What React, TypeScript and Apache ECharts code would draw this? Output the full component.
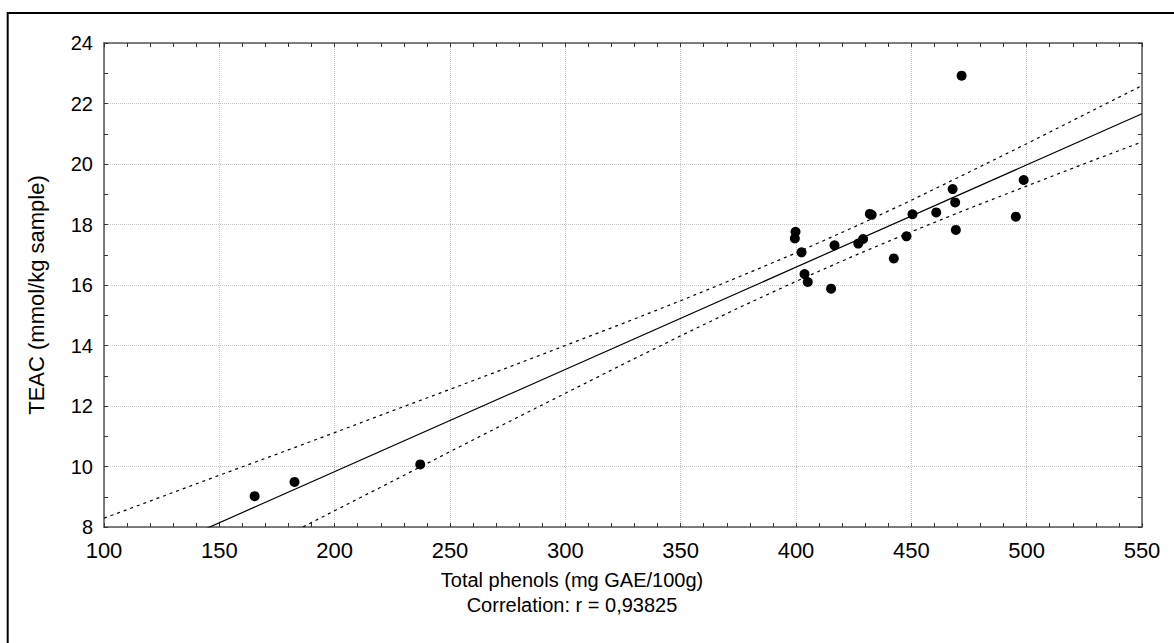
import React, { useEffect, useRef } from "react";
import * as echarts from "echarts";

// Scatter data: Total phenols (mg GAE/100g) vs TEAC (mmol/kg sample)
const pointX = [165.3, 182.6, 237.1, 399.5, 399.8, 402.4, 403.7, 405.1, 415.2, 416.7, 427.0, 429.1, 432.0, 432.8, 442.4, 447.9, 450.5, 460.8, 467.9, 469.0, 469.3, 471.8, 495.3, 498.7];
const pointY = [9.02, 9.49, 10.07, 17.54, 17.76, 17.08, 16.36, 16.10, 15.88, 17.31, 17.37, 17.52, 18.35, 18.32, 16.88, 17.61, 18.34, 18.40, 19.17, 18.73, 17.82, 22.92, 18.26, 19.47];

// Regression line (read at the ends of the x range)
const fitX = [100, 550];
const fitY = [6.45, 21.66];

// Confidence band
const bandX = [100, 125, 150, 175, 200, 225, 250, 275, 300, 325, 350, 375, 400, 425, 450, 475, 500, 525, 550];
const bandUpper = [8.29, 9.0, 9.71, 10.41, 11.12, 11.84, 12.55, 13.27, 14.0, 14.73, 15.48, 16.26, 17.06, 17.91, 18.8, 19.73, 20.67, 21.63, 22.59];
const bandLower = [4.61, 5.59, 6.57, 7.56, 8.54, 9.51, 10.49, 11.46, 12.42, 13.38, 14.32, 15.24, 16.12, 16.96, 17.76, 18.53, 19.27, 20.01, 20.73];

// Axis ranges
const xRange = [100, 550];
const xStep = 50;
const yRange = [8, 24];
const yStep = 2;

const xTitle = "Total phenols (mg GAE/100g)";
const yTitle = "TEAC (mmol/kg sample)";
const note = "Correlation: r = 0,93825";

const FONT = "Liberation Sans, Arial, Helvetica, sans-serif";

export default function App() {
  const ref = useRef<HTMLDivElement>(null);

  useEffect(() => {
    if (!ref.current) return;
    const chart = echarts.init(ref.current, undefined, { renderer: "svg" });

    const axisLine = { show: true, lineStyle: { color: "#555", width: 1.5 } };
    const tick = { show: true, inside: true, length: 4, lineStyle: { color: "#333", width: 1 } };
    const split = { show: true, lineStyle: { color: "#c4c4c4", type: "dotted" as const, width: 1 } };

    const xBase = {
      type: "value" as const,
      min: xRange[0],
      max: xRange[1],
      interval: xStep,
      axisLine,
      axisTick: tick,
      minorTick: { show: true, splitNumber: 5, length: 4, lineStyle: { color: "#333", width: 1 } },
    };
    const yBase = {
      type: "value" as const,
      min: yRange[0],
      max: yRange[1],
      interval: yStep,
      axisLine,
      axisTick: tick,
      minorTick: { show: true, splitNumber: 2, length: 4, lineStyle: { color: "#333", width: 1 } },
    };

    const band = (vals: number[]) => bandX.map((x, i) => [x, vals[i]]);
    const dashed = { color: "#000", width: 1.2, type: [3, 4] };

    chart.setOption({
      animation: false,
      backgroundColor: "#fff",
      grid: { left: 104, top: 43, width: 1038, height: 484, containLabel: false, outerBoundsMode: "none" },
      xAxis: [
        {
          ...xBase,
          position: "bottom",
          splitLine: split,
          axisLabel: { show: true, margin: 12, fontSize: 22, color: "#000", fontFamily: FONT, showMinLabel: true, showMaxLabel: true },
        },
        {
          ...xBase,
          position: "top",
          splitLine: { show: false },
          axisLabel: { show: false },
        },
      ],
      yAxis: [
        {
          ...yBase,
          position: "left",
          splitLine: split,
          axisLabel: { show: true, margin: 11, fontSize: 20, color: "#000", fontFamily: FONT, showMinLabel: true, showMaxLabel: true },
        },
        {
          ...yBase,
          position: "right",
          splitLine: { show: false },
          axisLabel: { show: false },
        },
      ],
      series: [
        {
          type: "line",
          data: band(bandUpper),
          symbol: "none",
          clip: true,
          lineStyle: dashed,
          z: 2,
        },
        {
          type: "line",
          data: band(bandLower),
          symbol: "none",
          clip: true,
          lineStyle: dashed,
          z: 2,
        },
        {
          type: "line",
          data: fitX.map((x, i) => [x, fitY[i]]),
          symbol: "none",
          clip: true,
          lineStyle: { color: "#000", width: 1.2 },
          z: 3,
        },
        {
          type: "scatter",
          data: pointX.map((x, i) => [x, pointY[i]]),
          symbol: "circle",
          symbolSize: 10,
          itemStyle: { color: "#000", opacity: 1 },
          z: 4,
        },
      ],
      graphic: [
        {
          type: "rect",
          shape: { x: 7.7, y: 13, width: 1400, height: 1000 },
          style: { fill: "none", stroke: "#000", lineWidth: 2 },
          silent: true,
        },
        {
          type: "text",
          x: 572,
          y: 579.5,
          style: { text: xTitle, font: `20px ${FONT}`, fill: "#000", align: "center", verticalAlign: "middle" },
        },
        {
          type: "text",
          x: 572,
          y: 605,
          style: { text: note, font: `20px ${FONT}`, fill: "#000", align: "center", verticalAlign: "middle" },
        },
        {
          type: "text",
          x: 36,
          y: 295,
          rotation: Math.PI / 2,
          style: { text: yTitle, font: `22px ${FONT}`, fill: "#000", align: "center", verticalAlign: "middle" },
        },
      ],
    });

    return () => chart.dispose();
  }, []);

  return (
    <div
      ref={ref}
      style={{ position: "fixed", left: 0, top: 0, width: 1174, height: 643, overflow: "hidden", background: "#fff" }}
    />
  );
}
